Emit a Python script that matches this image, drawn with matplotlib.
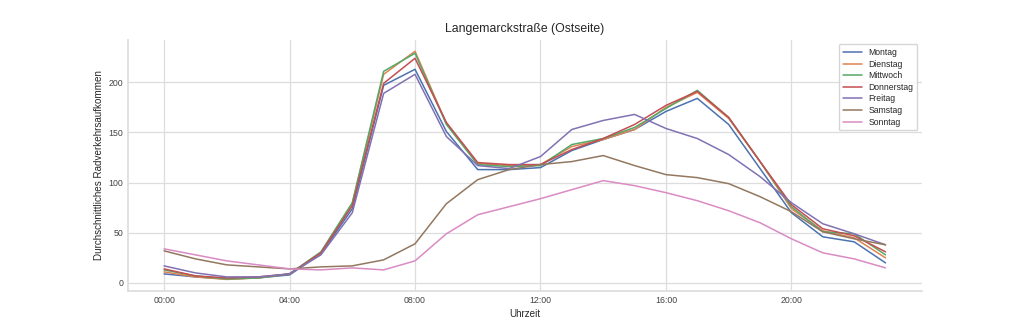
import numpy as np
import seaborn as sns
from matplotlib import pyplot as plt

# hourly averages per weekday
hours = np.arange(24)
tick_hours = [0, 4, 8, 12, 16, 20]
tick_labels = ['00:00', '04:00', '08:00', '12:00', '16:00', '20:00']

montag = [9, 6, 4, 5, 8, 29, 74, 197, 213, 151, 113, 113, 115, 132, 143, 153,
          171, 184, 158, 114, 70, 46, 41, 20]
dienstag = [11, 6, 3.5, 5, 9, 30, 79, 208, 231, 159, 119, 117, 118, 136, 143, 153,
            175, 190, 164, 121, 74, 52, 45, 25]
mittwoch = [13, 7, 4, 5, 9, 31, 80, 211, 229, 158, 118, 116, 117, 138, 144, 155,
            174, 192, 165, 121, 76, 51, 49, 28]
donnerstag = [14, 7, 5, 6, 9, 30, 77, 199, 224, 160, 120, 118, 118, 133, 144, 158,
              177, 191, 165, 121, 78, 54, 47, 31]
freitag = [17, 10, 6, 6, 9, 28, 70, 189, 208, 146, 117, 114, 126, 153, 162, 168,
           154, 144, 128, 106, 80, 59, 49, 38]
samstag = [32, 24, 18, 16, 14, 16, 17, 23, 39, 79, 103, 113, 118, 121, 127, 117,
           108, 105, 99, 86, 71, 51, 44, 38]
sonntag = [34, 28, 22, 18, 14, 13, 15, 13, 22, 49, 68, 76, 84, 93, 102, 97,
           90, 82, 72, 60, 44, 30, 24, 15]

days = ['Montag', 'Dienstag', 'Mittwoch', 'Donnerstag', 'Freitag', 'Samstag', 'Sonntag']
series = [montag, dienstag, mittwoch, donnerstag, freitag, samstag, sonntag]

sns.set_theme(style='whitegrid', palette='deep')
plt.rcParams['font.family'] = ['Liberation Sans', 'DejaVu Sans']

fig, ax = plt.subplots(figsize=(10.24, 3.32), dpi=100)
fig.subplots_adjust(left=0.125, right=0.9, top=0.88, bottom=0.124)
for name, values in zip(days, series):
    ax.plot(hours, values, label=name, linewidth=1.1)

ax.set_xticks(tick_hours)
ax.set_xticklabels(tick_labels)
ax.tick_params(labelsize=6.3, colors='#444444', length=0, pad=3.5)
ax.set_title('Langemarckstraße (Ostseite)', fontsize=8.8, color='#262626', pad=6)
ax.set_xlabel('Uhrzeit', fontsize=7.1, color='#262626', labelpad=3)
ax.set_ylabel('Durchschnittliches Radverkehrsaufkommen', fontsize=7.1, color='#262626', labelpad=3)
ax.grid(color='#dddddd', linewidth=0.9)
for s in ax.spines.values():
    s.set_color('#dddddd')
sns.despine(ax=ax)
ax.legend(loc='upper right', fontsize=6.2, frameon=True, handlelength=2.2,
          labelspacing=0.3, borderpad=0.45)

plt.savefig('out.png', dpi=100)
